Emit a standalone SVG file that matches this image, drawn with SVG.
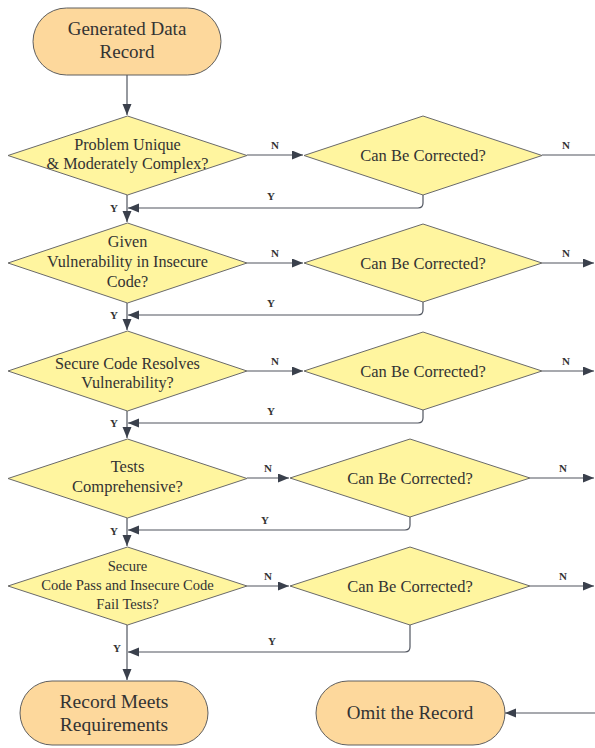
<svg xmlns="http://www.w3.org/2000/svg" width="595" height="748" viewBox="0 0 595 748">
<style>
.pill{fill:#fdd89c;stroke:#5f5f5f;stroke-width:1}
.dia{fill:#fff59f;stroke:#6a6a6a;stroke-width:1}
.t{font-family:"Liberation Serif","Times New Roman",serif;fill:#333;text-anchor:middle}
.lb{font-family:"Liberation Serif","Times New Roman",serif;font-weight:bold;font-size:11px;fill:#333;text-anchor:middle}
.c{fill:none;stroke:#50555f;stroke-width:1.2}
</style>
<defs>
<marker id="ah" markerUnits="userSpaceOnUse" markerWidth="12" markerHeight="10" refX="11" refY="4.5" orient="auto">
<path d="M0,0 L11,4.5 L0,9 z" fill="#3a404c"/>
</marker>
</defs>
<rect width="595" height="748" fill="#fff"/>
<g id="connectors">
<path class="c" d="M127,75 L127,115" marker-end="url(#ah)"/>
<path class="c" d="M247,155 L303,155" marker-end="url(#ah)"/>
<path class="c" d="M542,155 L595,155"/>
<path class="c" d="M423,195 L423,203 Q423,208 418,208 L128,208" marker-end="url(#ah)"/>
<path class="c" d="M127,195 L127,222" marker-end="url(#ah)"/>
<path class="c" d="M247,263 L303,263" marker-end="url(#ah)"/>
<path class="c" d="M542,263 L594,263" marker-end="url(#ah)"/>
<path class="c" d="M423,302 L423,310 Q423,315 418,315 L128,315" marker-end="url(#ah)"/>
<path class="c" d="M127,303 L127,330" marker-end="url(#ah)"/>
<path class="c" d="M247,371 L303,371" marker-end="url(#ah)"/>
<path class="c" d="M542,371 L594,371" marker-end="url(#ah)"/>
<path class="c" d="M423,410 L423,418 Q423,423 418,423 L128,423" marker-end="url(#ah)"/>
<path class="c" d="M127,411 L127,438" marker-end="url(#ah)"/>
<path class="c" d="M247,478 L289,478" marker-end="url(#ah)"/>
<path class="c" d="M530,478 L594,478" marker-end="url(#ah)"/>
<path class="c" d="M410,517 L410,525 Q410,530 405,530 L128,530" marker-end="url(#ah)"/>
<path class="c" d="M127,518 L127,546" marker-end="url(#ah)"/>
<path class="c" d="M247,586 L289,586" marker-end="url(#ah)"/>
<path class="c" d="M530,586 L594,586" marker-end="url(#ah)"/>
<path class="c" d="M410,625 L410,647 Q410,652 405,652 L128,652" marker-end="url(#ah)"/>
<path class="c" d="M127,625 L127,680" marker-end="url(#ah)"/>
<path class="c" d="M595,713 L505,713" marker-end="url(#ah)"/>
<text class="lb" x="275" y="149">N</text>
<text class="lb" x="566" y="149">N</text>
<text class="lb" x="271" y="200">Y</text>
<text class="lb" x="114" y="212">Y</text>
<text class="lb" x="275" y="257">N</text>
<text class="lb" x="566" y="257">N</text>
<text class="lb" x="271" y="307">Y</text>
<text class="lb" x="114" y="319">Y</text>
<text class="lb" x="275" y="365">N</text>
<text class="lb" x="566" y="365">N</text>
<text class="lb" x="271" y="415">Y</text>
<text class="lb" x="114" y="427">Y</text>
<text class="lb" x="268" y="472">N</text>
<text class="lb" x="563" y="472">N</text>
<text class="lb" x="265" y="524">Y</text>
<text class="lb" x="114" y="535">Y</text>
<text class="lb" x="268" y="580">N</text>
<text class="lb" x="563" y="580">N</text>
<text class="lb" x="272" y="645">Y</text>
<text class="lb" x="117" y="652">Y</text>
</g>
<g id="start">
<rect class="pill" x="33" y="8" width="188" height="67" rx="33.5"/>
<text class="t" x="127" y="35" font-size="19">Generated Data</text>
<text class="t" x="127" y="58" font-size="19">Record</text>
</g>
<g id="q1">
<polygon class="dia" points="127.5,116 247,155.5 127.5,195 8,155.5"/>
<text class="t" x="127.5" y="150" font-size="16.2">Problem Unique</text>
<text class="t" x="127.5" y="169" font-size="16.2">&amp; Moderately Complex?</text>
</g>
<g id="c1">
<polygon class="dia" points="423,116 542,155.5 423,195 304,155.5"/>
<text class="t" x="423" y="161" font-size="16.5">Can Be Corrected?</text>
</g>
<g id="q2">
<polygon class="dia" points="127.5,223 247,263 127.5,303 8,263"/>
<text class="t" x="127.5" y="247" font-size="16.2">Given</text>
<text class="t" x="127.5" y="267" font-size="16.2">Vulnerability in Insecure</text>
<text class="t" x="127.5" y="287" font-size="16.2">Code?</text>
</g>
<g id="c2">
<polygon class="dia" points="423,224 542,263 423,302 304,263"/>
<text class="t" x="423" y="269" font-size="16.5">Can Be Corrected?</text>
</g>
<g id="q3">
<polygon class="dia" points="127.5,331 247,371 127.5,411 8,371"/>
<text class="t" x="127.5" y="369" font-size="16.2">Secure Code Resolves</text>
<text class="t" x="127.5" y="388" font-size="16.2">Vulnerability?</text>
</g>
<g id="c3">
<polygon class="dia" points="423,332 542,371 423,410 304,371"/>
<text class="t" x="423" y="377" font-size="16.5">Can Be Corrected?</text>
</g>
<g id="q4">
<polygon class="dia" points="127.5,439 247,478.5 127.5,518 8,478.5"/>
<text class="t" x="127.5" y="472" font-size="16.5">Tests</text>
<text class="t" x="127.5" y="492" font-size="16.5">Comprehensive?</text>
</g>
<g id="c4">
<polygon class="dia" points="410,439 530,478 410,517 290,478"/>
<text class="t" x="410" y="484" font-size="16.5">Can Be Corrected?</text>
</g>
<g id="q5">
<polygon class="dia" points="127.5,547 247,586 127.5,625 8,586"/>
<text class="t" x="127.5" y="571" font-size="14.6">Secure</text>
<text class="t" x="127.5" y="590" font-size="14.6">Code Pass and Insecure Code</text>
<text class="t" x="127.5" y="609" font-size="14.6">Fail Tests?</text>
</g>
<g id="c5">
<polygon class="dia" points="410,547 530,586 410,625 290,586"/>
<text class="t" x="410" y="592" font-size="16.5">Can Be Corrected?</text>
</g>
<g id="meets">
<rect class="pill" x="20" y="681" width="188" height="64" rx="32"/>
<text class="t" x="114" y="708" font-size="19.5">Record Meets</text>
<text class="t" x="114" y="731" font-size="19.5">Requirements</text>
</g>
<g id="omit">
<rect class="pill" x="316" y="681" width="189" height="64" rx="32"/>
<text class="t" x="410" y="719" font-size="19">Omit the Record</text>
</g>
</svg>
